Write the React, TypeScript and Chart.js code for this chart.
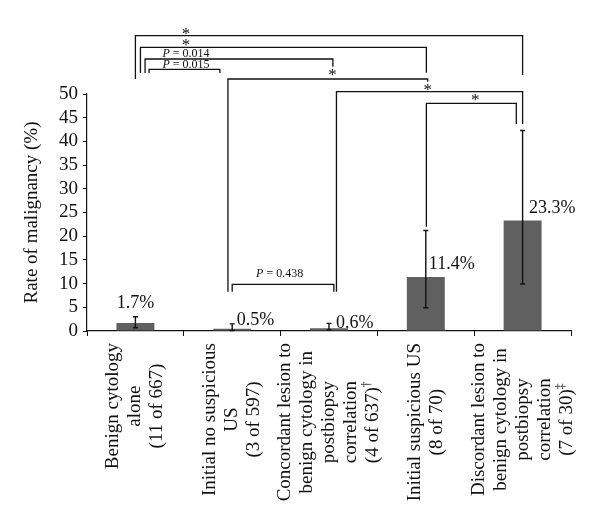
import React, { useEffect, useRef } from 'react';
import { Chart, registerables } from 'chart.js';

Chart.register(...registerables);

// ---- data ----
const categoryLines: string[][] = [
  ['Benign cytology', 'alone', '(11 of 667)'],
  ['Initial no suspicious', 'US', '(3 of 597)'],
  ['Concordant lesion to', 'benign cytology in', 'postbiopsy', 'correlation', '(4 of 637)†'],
  ['Initial suspicious US', '(8 of 70)'],
  ['Discordant lesion to', 'benign cytology in', 'postbiopsy', 'correlation', '(7 of 30)‡'],
];
const rates = [1.7, 0.5, 0.6, 11.4, 23.3];
const ciLower = [0.7, 0.1, 0.2, 4.9, 9.9];
const ciUpper = [3.0, 1.5, 1.6, 21.2, 42.3];
const rateLabels = ['1.7%', '0.5%', '0.6%', '11.4%', '23.3%'];
const yMin = 0;
const yMax = 50;
const yStep = 5;
const yTitle = 'Rate of malignancy (%)';

// significance comparisons (category index pairs and their labels)
const comparisonFrom = [0, 0, 0, 0, 1, 2, 3, 1];
const comparisonTo = [4, 3, 2, 1, 3, 4, 4, 2];
const comparisonLabels = ['*', '*', 'P = 0.014', 'P = 0.015', '*', '*', '*', 'P = 0.438'];

// ---- layout / style of annotations (not data) ----
const bracketGeom = [
  { x1: 0.0, x2: 4.0, top: 62.3, e1: 53.16, e2: 54.0, lx: 0.522, ly: 4 },
  { x1: 0.052, x2: 3.006, top: 59.85, e1: 54.43, e2: 54.49, lx: 0.522, ly: 5 },
  { x1: 0.1, x2: 2.04, top: 57.38, e1: 54.43, e2: 55.76, lx: 0.522, ly: 5.7 },
  { x1: 0.141, x2: 0.873, top: 55.21, e1: 54.43, e2: 54.43, lx: 0.522, ly: 5.3 },
  { x1: 0.956, x2: 3.02, top: 53.16, e1: 8.29, e2: 52.59, lx: 2.036, ly: 6.3 },
  { x1: 2.077, x2: 4.0, top: 50.49, e1: 8.29, e2: 43.67, lx: 3.02, ly: 4 },
  { x1: 3.006, x2: 3.935, top: 48.04, e1: 22.0, e2: 43.67, lx: 3.512, ly: 5.6 },
  { x1: 1.0, x2: 2.05, top: 9.85, e1: 8.29, e2: 8.29, lx: 1.49, ly: 11 },
];
const valueLabelPlacement = [
  { align: 'center', dx: 0, dy: 15, ref: 'ci' },
  { align: 'left', dx: 4.5, dy: 10.6, ref: 'bar' },
  { align: 'left', dx: 7, dy: 6.7, ref: 'bar' },
  { align: 'left', dx: 3, dy: 14, ref: 'bar' },
  { align: 'left', dx: 6.5, dy: 13.6, ref: 'bar' },
];

const SERIF = "'Liberation Serif', 'Times New Roman', serif";
const INK = '#111';

function centeredText(ctx: CanvasRenderingContext2D, text: string, x: number, cy: number, align: 'left' | 'center') {
  const m = ctx.measureText(text);
  const a = m.actualBoundingBoxAscent;
  const d = m.actualBoundingBoxDescent;
  ctx.textAlign = align;
  ctx.textBaseline = 'alphabetic';
  ctx.fillText(text, x, cy + (a - d) / 2);
}

const overlayPlugin = {
  id: 'overlay',
  afterDraw(chart: any) {
    const { ctx } = chart;
    const x = chart.scales.x;
    const y = chart.scales.y;
    const x0 = x.getPixelForTick(0);
    const catW = x.getPixelForTick(1) - x0;
    const px = (pos: number) => x0 + pos * catW;

    ctx.save();
    ctx.strokeStyle = INK;
    ctx.fillStyle = INK;

    // error bars
    ctx.lineWidth = 1.4;
    for (let i = 0; i < rates.length; i++) {
      const cx = x.getPixelForTick(i);
      const t = y.getPixelForValue(ciUpper[i]);
      const b = y.getPixelForValue(ciLower[i]);
      ctx.beginPath();
      ctx.moveTo(cx, t);
      ctx.lineTo(cx, b);
      ctx.moveTo(cx - 2.5, t);
      ctx.lineTo(cx + 2.5, t);
      ctx.moveTo(cx - 2.5, b);
      ctx.lineTo(cx + 2.5, b);
      ctx.stroke();
    }

    // value labels
    ctx.font = `18px ${SERIF}`;
    for (let i = 0; i < rates.length; i++) {
      const p = valueLabelPlacement[i];
      const cx = x.getPixelForTick(i) + p.dx;
      const refY = p.ref === 'ci' ? y.getPixelForValue(ciUpper[i]) : y.getPixelForValue(rates[i]);
      centeredText(ctx, rateLabels[i], cx, refY - p.dy, p.align as any);
    }

    // brackets
    ctx.lineWidth = 1.3;
    for (let k = 0; k < comparisonLabels.length; k++) {
      const g = bracketGeom[k];
      const xa = px(g.x1);
      const xb = px(g.x2);
      const yt = y.getPixelForValue(g.top);
      ctx.beginPath();
      ctx.moveTo(xa, y.getPixelForValue(g.e1));
      ctx.lineTo(xa, yt);
      ctx.lineTo(xb, yt);
      ctx.lineTo(xb, y.getPixelForValue(g.e2));
      ctx.stroke();

      const label = comparisonLabels[k];
      const lx = px(g.lx);
      const ly = yt - g.ly;
      if (label === '*') {
        ctx.font = `17px ${SERIF}`;
        centeredText(ctx, '*', lx, ly, 'center');
      } else {
        // italic P + rest
        const rest = label.slice(1);
        ctx.font = `italic 12px ${SERIF}`;
        const wP = ctx.measureText('P').width;
        ctx.font = `12px ${SERIF}`;
        const wR = ctx.measureText(rest).width;
        const start = lx - (wP + wR) / 2;
        ctx.font = `12px ${SERIF}`;
        const m = ctx.measureText('0');
        const base = ly + (m.actualBoundingBoxAscent - m.actualBoundingBoxDescent) / 2;
        ctx.textAlign = 'left';
        ctx.textBaseline = 'alphabetic';
        ctx.font = `italic 12px ${SERIF}`;
        ctx.fillText('P', start, base);
        ctx.font = `12px ${SERIF}`;
        ctx.fillText(rest, start + wP, base);
      }
    }

    // x category labels (rotated, centered block, top aligned below axis)
    const lh = 22;
    const topY = y.getPixelForValue(yMin) + 12;
    ctx.font = `19px ${SERIF}`;
    for (let i = 0; i < categoryLines.length; i++) {
      const lines = categoryLines[i];
      const cx = x.getPixelForTick(i);
      const widths = lines.map((l) => {
        const last = l.slice(-1);
        if (last === '†' || last === '‡') {
          ctx.font = `19px ${SERIF}`;
          const w1 = ctx.measureText(l.slice(0, -1)).width;
          ctx.font = `12px ${SERIF}`;
          const w2 = ctx.measureText(last).width;
          ctx.font = `19px ${SERIF}`;
          return w1 + w2;
        }
        return ctx.measureText(l).width;
      });
      const maxW = Math.max(...widths);
      const cy = topY + maxW / 2;
      lines.forEach((l, j) => {
        const lxPos = cx + (j - (lines.length - 1) / 2) * lh;
        ctx.save();
        ctx.translate(lxPos, cy);
        ctx.rotate(-Math.PI / 2);
        ctx.textBaseline = 'middle';
        const last = l.slice(-1);
        if (last === '†' || last === '‡') {
          const w = widths[j];
          ctx.textAlign = 'left';
          ctx.font = `19px ${SERIF}`;
          const main = l.slice(0, -1);
          const w1 = ctx.measureText(main).width;
          ctx.fillText(main, -w / 2, 0);
          ctx.font = `12px ${SERIF}`;
          ctx.fillText(last, -w / 2 + w1, -6);
        } else {
          ctx.textAlign = 'center';
          ctx.font = `19px ${SERIF}`;
          ctx.fillText(l, 0, 0);
        }
        ctx.restore();
      });
    }
    ctx.restore();
  },
};

export default function App() {
  const ref = useRef<HTMLCanvasElement | null>(null);
  useEffect(() => {
    if (!ref.current) return;
    const chart = new Chart(ref.current, {
      type: 'bar',
      data: {
        labels: categoryLines.map((l) => l.join(' ')),
        datasets: [
          {
            data: rates,
            backgroundColor: '#606060',
            borderWidth: 0,
            barPercentage: 0.392,
            categoryPercentage: 1,
          },
        ],
      },
      options: {
        responsive: false,
        animation: false,
        events: [],
        layout: { padding: { left: 0, right: 29, top: 94, bottom: 0 } },
        plugins: {
          legend: { display: false },
          tooltip: { enabled: false },
          title: { display: false },
        },
        scales: {
          x: {
            type: 'category',
            offset: true,
            grid: {
              display: true,
              offset: true,
              drawOnChartArea: false,
              drawTicks: true,
              tickLength: 5,
              color: INK,
              lineWidth: 1,
            },
            border: { display: true, color: INK, width: 1.2 },
            ticks: { display: false },
            afterFit: (s: any) => {
              s.height = 198;
            },
          },
          y: {
            min: yMin,
            max: yMax,
            ticks: {
              stepSize: yStep,
              autoSkip: false,
              color: INK,
              padding: 5,
              font: { family: SERIF, size: 19, lineHeight: 1 },
            },
            grid: {
              display: true,
              drawOnChartArea: false,
              drawTicks: true,
              tickLength: 4,
              color: INK,
              lineWidth: 1,
            },
            border: { display: true, color: INK, width: 1.2 },
            title: {
              display: true,
              text: yTitle,
              color: INK,
              font: { family: SERIF, size: 19 },
              padding: { top: 21, bottom: 0 },
            },
            afterFit: (s: any) => {
              s.width = 87;
            },
          },
        },
      },
      plugins: [overlayPlugin],
    });
    return () => chart.destroy();
  }, []);
  return (
    <div style={{ position: 'fixed', left: 0, top: 0, width: 600, height: 529, background: '#fff' }}>
      <canvas ref={ref} width={600} height={529} style={{ width: 600, height: 529, display: 'block' }} />
    </div>
  );
}
